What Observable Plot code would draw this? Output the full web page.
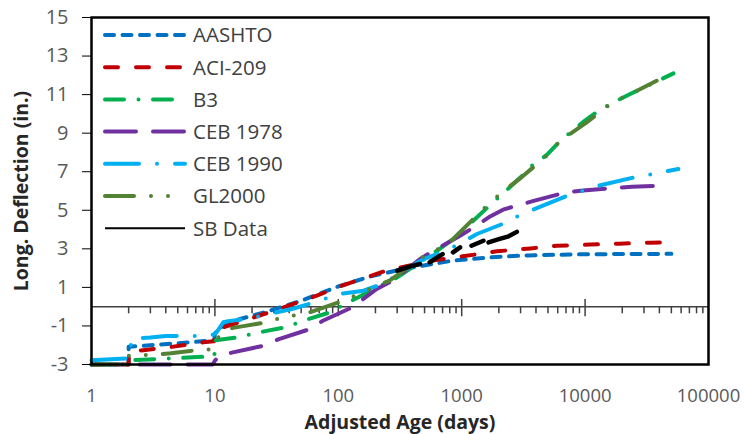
<!DOCTYPE html>
<html><head><meta charset="utf-8">
<script src="https://cdn.jsdelivr.net/npm/d3@7"></script>
<script src="https://cdn.jsdelivr.net/npm/@observablehq/plot@0.6"></script>
<style>
body{margin:0;background:#fff;}
#chart{position:relative;width:747px;height:434px;}
#legend{position:absolute;left:0;top:0;pointer-events:none;}
</style></head><body><div id="chart"></div>
<script>
// ---- data ----
const seriesNames = ["AASHTO", "ACI-209", "B3", "CEB 1978", "CEB 1990", "GL2000", "SB Data"];
const seriesColors = ["#0070C0", "#C00000", "#00B050", "#7030A0", "#00B0F0", "#548235", "#000000"];

const aashtoDays = [1, 2, 2, 3, 5, 9.9, 10, 10.5, 13, 25, 50, 100, 180, 335, 850, 1900, 3400, 10000, 50000];
const aashtoVals = [-3, -3, -2.08, -2.0, -1.9, -1.74, -1.4, -1.2, -0.8, -0.3, 0.3, 1.05, 1.56, 1.95, 2.39, 2.58, 2.66, 2.72, 2.74];

const aciDays = [1, 2, 2, 2.5, 4.3, 8, 9.8, 10, 12, 19, 36, 67, 103, 245, 580, 1020, 1930, 3600, 5900, 11000, 19000, 34000, 55000];
const aciVals = [-3, -3, -2.35, -2.27, -2.1, -1.85, -1.8, -1.4, -1.05, -0.64, -0.04, 0.57, 1.05, 1.87, 2.39, 2.61, 2.87, 3.02, 3.16, 3.22, 3.27, 3.32, 3.36];

const b3Days = [1, 2, 2, 4, 8, 9.9, 10, 15, 23, 37, 55, 85, 128, 300, 630, 970, 1240, 1590, 2450, 3050, 3700, 4900, 6300, 9600, 12300, 16600, 23200, 52000];
const b3Vals = [-3, -3, -2.78, -2.7, -2.6, -2.58, -1.75, -1.6, -1.33, -1.07, -0.68, -0.3, 0.31, 1.52, 2.9, 3.77, 4.46, 5.1, 6.19, 6.75, 7.31, 7.88, 8.61, 9.57, 10.08, 10.57, 11.03, 12.1];

const ceb78Days = [1, 9.6, 10, 11, 14, 25, 33, 59, 75, 130, 205, 275, 460, 590, 970, 1320, 1700, 2200, 3000, 3900, 7000, 9600, 17000, 24000, 43000];
const ceb78Vals = [-3, -3, -2.8, -2.54, -2.37, -2.02, -1.68, -1.16, -0.73, -0.03, 0.92, 1.35, 2.47, 2.9, 3.68, 4.2, 4.68, 5.05, 5.3, 5.5, 5.93, 6.02, 6.16, 6.22, 6.28];

const ceb90Days = [1, 2.05, 2.1, 3, 4, 7, 9.7, 10.3, 11.7, 12.8, 18, 42, 58, 103, 160, 230, 490, 750, 1000, 1330, 2300, 3080, 4200, 7200, 13000, 24000, 33000, 57000];
const ceb90Vals = [-2.78, -2.68, -1.65, -1.6, -1.52, -1.52, -1.45, -1.33, -0.81, -0.75, -0.64, -0.12, 0.14, 0.66, 0.83, 1.19, 2.47, 2.9, 3.33, 3.77, 4.37, 4.81, 5.15, 5.76, 6.28, 6.68, 6.85, 7.14];

const gl2000Days = [1, 2, 2, 3, 4.4, 6.3, 9.5, 10, 11, 12, 14, 24, 32, 58, 80, 110, 180, 260, 550, 750, 1700, 2300, 3050, 4900, 6300, 10300, 16700, 23300, 38000];
const gl2000Vals = [-3, -3, -2.55, -2.5, -2.42, -2.3, -2.2, -1.9, -1.45, -1.25, -1.1, -0.85, -0.64, -0.3, 0, 0.31, 0.92, 1.35, 2.82, 3.16, 5.41, 6.1, 6.71, 7.83, 8.61, 9.56, 10.6, 11.03, 11.72];

const sbDays = [300, 340, 390, 460, 500, 550, 620, 700, 780, 850, 970, 1080, 1200, 1500, 1580, 1650, 2000, 2400, 2800];
const sbVals = [1.87, 1.98, 2.1, 2.21, null, 2.3, 2.52, 2.73, null, 2.82, 3.08, null, 3.16, 3.42, null, 3.33, 3.5, 3.65, 3.88];

const xTicks = [1, 10, 100, 1000, 10000, 100000];
const xTickLabels = ["1", "10", "100", "1000", "10000", "100000"];
const yTicks = [-3, -1, 1, 3, 5, 7, 9, 11, 13, 15];
const xTitle = "Adjusted Age (days)";
const yTitle = "Long. Deflection (in.)";

// ---- styles ----
const dashes = ["9,8.5", "13,18", "19,14.5,0,14.5", "31,17", "34,18,0,18", "29,17,0,17,0,17", null];
const widths = [4, 4, 4, 4, 4, 4, 4.5];

const seriesDays = [aashtoDays, aciDays, b3Days, ceb78Days, ceb90Days, gl2000Days, sbDays];
const seriesVals = [aashtoVals, aciVals, b3Vals, ceb78Vals, ceb90Vals, gl2000Vals, sbVals];
const tables = seriesDays.map((ds, k) => ds.map((d, i) => ({day: d, v: seriesVals[k][i]})));

const minorTicks = [];
for (const dec of [1, 10, 100, 1000, 10000]) for (let m = 2; m <= 9; m++) minorTicks.push(dec * m);
const majorTicks = [10, 100, 1000, 10000];

const W = 747, H = 434, mL = 91, mR = 39, mT = 17, mB = 70;
const FONT = "'Open Sans', 'Liberation Sans', sans-serif";

const lineMarks = tables.map((t, k) => Plot.line(t, {
  x: "day", y: "v", stroke: seriesColors[k], strokeWidth: widths[k],
  strokeDasharray: dashes[k] ?? undefined, strokeLinecap: "round", strokeLinejoin: "round",
  curve: "linear"
}));

const chart = Plot.plot({
  width: W, height: H,
  marginLeft: mL, marginRight: mR, marginTop: mT, marginBottom: mB,
  style: {fontFamily: FONT, background: "#fff", overflow: "visible"},
  x: {type: "log", domain: [1, 100000]},
  y: {domain: [-3, 15]},
  marks: [
    Plot.ruleY([0], {stroke: "#404040", strokeWidth: 1.5}),
    Plot.ruleX(minorTicks, {x: d => d, y1: 0, y2: -0.37, stroke: "#404040", strokeWidth: 1.5}),
    Plot.ruleX(majorTicks, {x: d => d, y1: 0.37, y2: -0.52, stroke: "#404040", strokeWidth: 1.5}),
    ...lineMarks,
    Plot.frame({stroke: "#000", strokeWidth: 2.5}),
    Plot.axisY({ticks: yTicks, tickSize: 9, tickPadding: 14, fontSize: 20, stroke: "#000", fill: "#595959", label: null, tickFormat: d => String(d)}),
    Plot.axisX({ticks: xTicks, tickSize: 0, tickPadding: 24, fontSize: 18.5, fill: "#595959", label: null, tickFormat: (d) => xTickLabels[xTicks.indexOf(d)]}),
    Plot.text([yTitle], {text: d => d, frameAnchor: "left", textAnchor: "middle", lineAnchor: "middle", dx: -70, rotate: -90, fontWeight: "bold", fontSize: 19.5, fill: "#262626"}),
    Plot.text([xTitle], {text: d => d, frameAnchor: "bottom", textAnchor: "middle", lineAnchor: "middle", dy: 58, fontWeight: "bold", fontSize: 19.5, fill: "#262626"})
  ]
});
document.getElementById("chart").appendChild(chart);

// ---- legend (inside the plot, upper left) ----
const leg = d3.select("#chart").append("svg").attr("id", "legend").attr("width", W).attr("height", H);
const rowY = i => 35 + i * 32.2;
seriesNames.forEach((name, i) => {
  const g = leg.append("g");
  g.append("line").attr("x1", 105).attr("x2", 185).attr("y1", rowY(i)).attr("y2", rowY(i))
    .attr("stroke", seriesColors[i]).attr("stroke-width", i === 6 ? 2 : 4)
    .attr("stroke-linecap", i === 6 ? "butt" : "round")
    .attr("stroke-dasharray", dashes[i] ?? null);
  g.append("text").attr("x", 193).attr("y", rowY(i)).attr("dy", "0.36em")
    .attr("font-family", FONT).attr("font-size", 20.5).attr("fill", "#404040").text(name);
});
</script></body></html>
